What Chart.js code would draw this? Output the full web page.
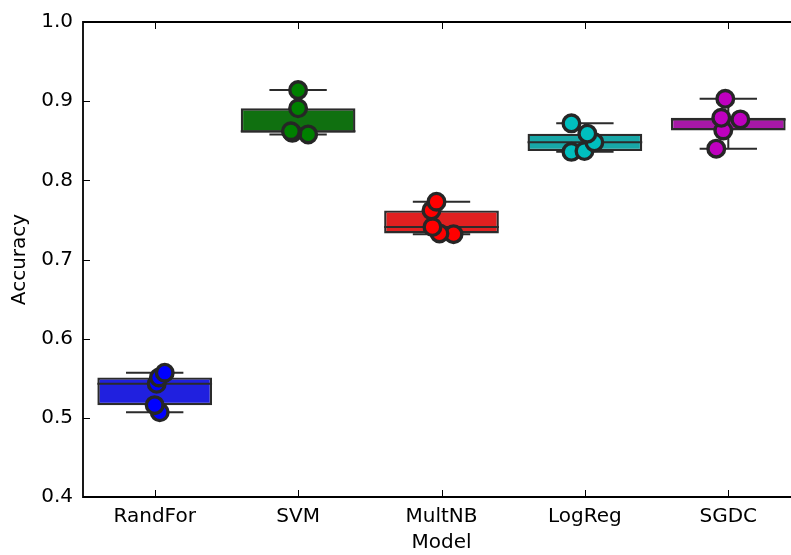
<!DOCTYPE html>
<html>
<head>
<meta charset="utf-8">
<script src="https://cdn.jsdelivr.net/npm/chart.js@4.4.1/dist/chart.umd.min.js"></script>
<style>
  html, body { margin: 0; padding: 0; background: #fff; overflow: hidden; width: 791px; height: 555px; }
  #wrap { width: 791px; height: 555px; overflow: hidden; position: relative; }
  #myChart { position: absolute; left: 0; top: 0; }
</style>
</head>
<body>
<div id="wrap"><canvas id="myChart" width="900" height="555"></canvas></div>
<script>
// categories
const models = ['RandFor', 'SVM', 'MultNB', 'LogReg', 'SGDC'];

// accuracy scores per model (5 folds each)
const randFor = [0.507, 0.516, 0.543, 0.551, 0.557];
const svm     = [0.858, 0.860, 0.862, 0.891, 0.914];
const multNB  = [0.732, 0.733, 0.741, 0.762, 0.773];
const logReg  = [0.836, 0.837, 0.848, 0.859, 0.872];
const sgdc    = [0.840, 0.863, 0.877, 0.879, 0.903];

// strip plot jitter (category units), same order as the scores
const randForJitter = [0.035, 0.0, 0.014, 0.03, 0.07];
const svmJitter     = [0.07, -0.04, -0.05, 0.0, 0.0];
const multNBJitter  = [0.084, -0.014, -0.063, -0.07, -0.035];
const logRegJitter  = [-0.094, -0.003, 0.066, 0.017, -0.094];
const sgdcJitter    = [-0.084, -0.035, 0.084, -0.049, -0.021];

const yTicks = [0.4, 0.5, 0.6, 0.7, 0.8, 0.9, 1.0];

const scores = [randFor, svm, multNB, logReg, sgdc];
const jitters = [randForJitter, svmJitter, multNBJitter, logRegJitter, sgdcJitter];

const boxColors = ['#2020df', '#107010', '#df2020', '#18a7a7', '#a718a7'];
const dotColors = ['#0000ff', '#008000', '#ff0000', '#00bfbf', '#bf00bf'];
const edge = '#2b2b2b';
const font = { family: 'DejaVu Sans', size: 20 };

// five number summary (n = 5, so quartiles are exact order stats)
const stats = scores.map(vals => {
    const s = [...vals].sort((a, b) => a - b);
    return { min: s[0], q1: s[1], med: s[2], q3: s[3], max: s[4] };
});

// whiskers, caps and medians as one broken line
const segs = [];
stats.forEach((st, i) => {
    const gap = { x: i, y: null };
    segs.push({ x: i - 0.2, y: st.max }, { x: i + 0.2, y: st.max }, gap);
    segs.push({ x: i, y: st.max }, { x: i, y: st.q3 }, gap);
    segs.push({ x: i - 0.2, y: st.min }, { x: i + 0.2, y: st.min }, gap);
    segs.push({ x: i, y: st.min }, { x: i, y: st.q1 }, gap);
    segs.push({ x: i - 0.4, y: st.med }, { x: i + 0.4, y: st.med }, gap);
});

const dotSets = scores.map((vals, i) => ({
    type: 'scatter',
    data: vals.map((v, k) => ({ x: i + jitters[i][k], y: v })),
    backgroundColor: dotColors[i],
    borderColor: '#262626',
    pointRadius: 8.3,
    pointBorderWidth: 3.4,
    order: 1
}));

// inward ticks and frame (left, top, bottom; the right side falls off the canvas)
const frame = {
    id: 'frame',
    afterDraw(chart) {
        const { ctx, chartArea: a, scales } = chart;
        ctx.save();
        ctx.strokeStyle = '#000';
        ctx.lineWidth = 1;
        const tl = 7;
        scales.y.ticks.forEach((t, i) => {
            const py = Math.round(scales.y.getPixelForTick(i)) + 0.5;
            ctx.beginPath();
            ctx.moveTo(a.left, py); ctx.lineTo(a.left + tl, py);
            ctx.stroke();
        });
        scales.x.ticks.forEach((t, i) => {
            const px = Math.round(scales.x.getPixelForTick(i)) + 0.5;
            ctx.beginPath();
            ctx.moveTo(px, a.bottom); ctx.lineTo(px, a.bottom - tl);
            ctx.moveTo(px, a.top); ctx.lineTo(px, a.top + tl);
            ctx.stroke();
        });
        ctx.lineWidth = 1.8;
        ctx.beginPath();
        ctx.moveTo(a.right, a.top);
        ctx.lineTo(a.left, a.top);
        ctx.lineTo(a.left, a.bottom);
        ctx.lineTo(a.right, a.bottom);
        ctx.stroke();
        ctx.restore();
    }
};

new Chart(document.getElementById('myChart'), {
    type: 'bar',
    data: {
        datasets: [
            ...dotSets,
            {
                type: 'line',
                data: segs,
                borderColor: edge,
                borderWidth: 2,
                pointRadius: 0,
                spanGaps: false,
                fill: false,
                order: 2
            },
            {
                type: 'bar',
                data: stats.map((st, i) => ({ x: i, y: [st.q1, st.q3] })),
                backgroundColor: boxColors,
                borderColor: edge,
                borderWidth: 2.4,
                borderSkipped: false,
                barPercentage: 0.8,
                categoryPercentage: 1,
                order: 3
            }
        ]
    },
    options: {
        responsive: false,
        animation: false,
        events: [],
        layout: { padding: { top: 20, right: 100, left: 0, bottom: 0 } },
        plugins: { legend: { display: false }, tooltip: { enabled: false } },
        scales: {
            x: {
                type: 'linear',
                offset: false,
                min: -0.5,
                max: 4.5,
                afterBuildTicks: s => { s.ticks = models.map((m, i) => ({ value: i })); },
                grid: { display: false, drawTicks: false, offset: false },
                border: { display: false },
                ticks: { font: font, color: '#000', padding: 8, callback: v => models[v] },
                title: { display: true, text: 'Model', font: font, color: '#000', padding: { top: 0, bottom: 0 } },
                afterFit: s => { s.height = 58; }
            },
            y: {
                type: 'linear',
                min: 0.4,
                max: 1.0,
                afterBuildTicks: s => { s.ticks = yTicks.map(v => ({ value: v })); },
                grid: { display: false, drawTicks: false },
                border: { display: false },
                ticks: { font: font, color: '#000', padding: 10, callback: v => v.toFixed(1) },
                title: { display: true, text: 'Accuracy', font: font, color: '#000', padding: { top: 8, bottom: 0 } },
                afterFit: s => { s.width = 83; }
            }
        }
    },
    plugins: [frame]
});
</script>
</body>
</html>
